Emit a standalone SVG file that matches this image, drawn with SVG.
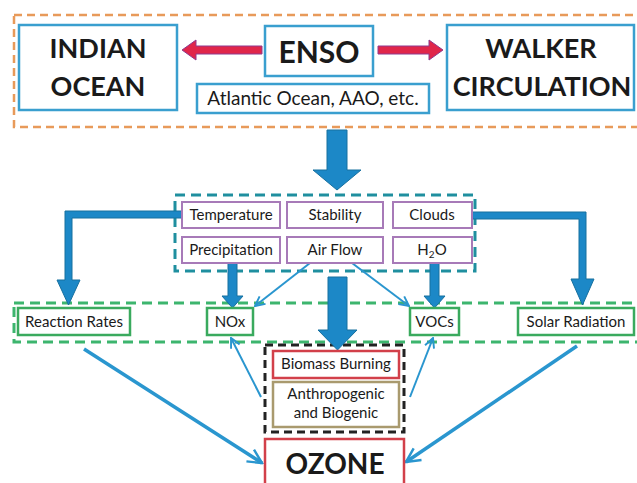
<svg xmlns="http://www.w3.org/2000/svg" width="637" height="483" viewBox="0 0 637 483">
<defs>
<style>
text{font-family:Lato,"Open Sans","Liberation Sans",sans-serif;fill:#1a1a1a;text-anchor:middle}
.big{font-size:27px;font-weight:bold}
.huge{font-size:30px;font-weight:bold}
.oz{font-size:28px;font-weight:bold}
.mid{font-size:19px}
.sm{font-size:15px}
.bluebox{fill:#fff;stroke:#3a9fcf;stroke-width:2.5}
.purp{fill:#fff;stroke:#a77ab8;stroke-width:2}
.grn{fill:#fff;stroke:#3aaa5e;stroke-width:2.5}
.redb{fill:#fff;stroke:#d2404a;stroke-width:2.5}
.tan{fill:#fff;stroke:#a99a6e;stroke-width:2.5}
.thick{fill:#1c88c7;stroke:#17709f;stroke-width:1}
.red{fill:#e0264a;stroke:#8e3b8e;stroke-width:1}
.thin{fill:none;stroke:#2a96cf;stroke-width:2;marker-end:url(#v)}
.med{fill:none;stroke:#2a96cf;stroke-width:3.5;marker-end:url(#v2)}
</style>
<marker id="v" viewBox="0 0 10 10" refX="9" refY="5" markerWidth="6" markerHeight="6" orient="auto" markerUnits="strokeWidth">
<path d="M1,1 L9,5 L1,9" fill="none" stroke="#2a96cf" stroke-width="1.6"/>
</marker>
<marker id="v2" viewBox="0 0 10 10" refX="9" refY="5" markerWidth="5" markerHeight="5" orient="auto" markerUnits="strokeWidth">
<path d="M1,1 L9,5 L1,9" fill="none" stroke="#2a96cf" stroke-width="1.4"/>
</marker>
</defs>
<rect width="637" height="483" fill="#fff"/>

<g id="groups">
<rect x="14" y="15" width="640" height="112" fill="none" stroke="#e89a5a" stroke-width="2.5" stroke-dasharray="8 5"/>
<rect x="175" y="195" width="300" height="76" fill="none" stroke="#1f8f9f" stroke-width="3" stroke-dasharray="10 6"/>
<rect x="14" y="303" width="640" height="39" fill="none" stroke="#3db56e" stroke-width="3" stroke-dasharray="10 6"/>
<rect x="265" y="345" width="139" height="87" fill="none" stroke="#222" stroke-width="3" stroke-dasharray="8 5"/>
</g>

<g id="connectors">
<polygon class="red" points="182,50 196,40 196,46 262,46 262,54 196,54 196,60"/>
<polygon class="red" points="443,50 429,40 429,46 378,46 378,54 429,54 429,60"/>
<polygon class="thick" points="327,130 347,130 347,170 361,170 337,190 313,170 327,170"/>
<polygon class="thick" points="182,211 65,211 65,280 57,280 68.5,305 80,280 72,280 72,218 182,218"/>
<polygon class="thick" points="472,212 586,212 586,279 594,279 582.5,305 571,279 579,279 579,219 472,219"/>
<polygon class="thick" points="228,263 237,263 237,296 243,296 232.5,308 222,296 228,296"/>
<polygon class="thick" points="430,263 439,263 439,296 445,296 434.5,308 424,296 430,296"/>
<polygon class="thick" points="328,277 347,277 347,330 357,330 337.5,350 318,330 328,330"/>
<line class="thin" x1="310" y1="263" x2="255" y2="306"/>
<line class="thin" x1="352" y1="263" x2="409" y2="306"/>
<line class="thin" x1="261" y1="397" x2="231" y2="338"/>
<line class="thin" x1="410" y1="397" x2="433" y2="338"/>
<line class="med" x1="84" y1="349" x2="262" y2="463"/>
<line class="med" x1="577" y1="346" x2="406" y2="462"/>
</g>

<g id="indian-ocean">
<rect class="bluebox" x="19" y="25" width="158" height="85"/>
<text class="big" x="98" y="58">INDIAN</text>
<text class="big" x="98" y="96">OCEAN</text>
</g>
<g id="enso">
<rect class="bluebox" x="265" y="26" width="108" height="50"/>
<text class="huge" x="319" y="63">ENSO</text>
</g>
<g id="atlantic">
<rect class="bluebox" x="197" y="84" width="232" height="29"/>
<text class="mid" x="313" y="105">Atlantic Ocean, AAO, etc.</text>
</g>
<g id="walker">
<rect class="bluebox" x="447" y="25" width="187" height="85"/>
<text class="big" x="541" y="58">WALKER</text>
<text class="big" x="542" y="96">CIRCULATION</text>
</g>

<g id="temperature"><rect class="purp" x="182" y="202" width="98" height="26"/><text class="sm" x="231" y="220">Temperature</text></g>
<g id="stability"><rect class="purp" x="287" y="202" width="96" height="26"/><text class="sm" x="335" y="220">Stability</text></g>
<g id="clouds"><rect class="purp" x="393" y="202" width="79" height="26"/><text class="sm" x="432" y="220">Clouds</text></g>
<g id="precipitation"><rect class="purp" x="182" y="237" width="98" height="26"/><text class="sm" x="231" y="255">Precipitation</text></g>
<g id="airflow"><rect class="purp" x="287" y="237" width="96" height="26"/><text class="sm" x="335" y="255">Air Flow</text></g>
<g id="h2o"><rect class="purp" x="393" y="237" width="79" height="26"/><text class="sm" x="432" y="255">H<tspan font-size="10" dy="3">2</tspan><tspan dy="-3">O</tspan></text></g>

<g id="reaction-rates"><rect class="grn" x="18" y="308" width="112" height="27"/><text class="sm" x="74" y="327">Reaction Rates</text></g>
<g id="nox"><rect class="grn" x="207" y="308" width="46" height="27"/><text class="sm" x="230" y="327">NOx</text></g>
<g id="vocs"><rect class="grn" x="410" y="308" width="49" height="27"/><text class="sm" x="434.5" y="327">VOCs</text></g>
<g id="solar-radiation"><rect class="grn" x="518" y="308" width="116" height="27"/><text class="sm" x="576" y="327">Solar Radiation</text></g>

<g id="biomass"><rect class="redb" x="273" y="351" width="126" height="27"/><text class="sm" x="336" y="369">Biomass Burning</text></g>
<g id="anthropogenic"><rect class="tan" x="273" y="382" width="126" height="45"/><text class="sm" x="336" y="399">Anthropogenic</text><text class="sm" x="336" y="418">and Biogenic</text></g>

<g id="ozone"><rect class="redb" x="265" y="439" width="139" height="60"/><text class="oz" x="335" y="474">OZONE</text></g>
</svg>
